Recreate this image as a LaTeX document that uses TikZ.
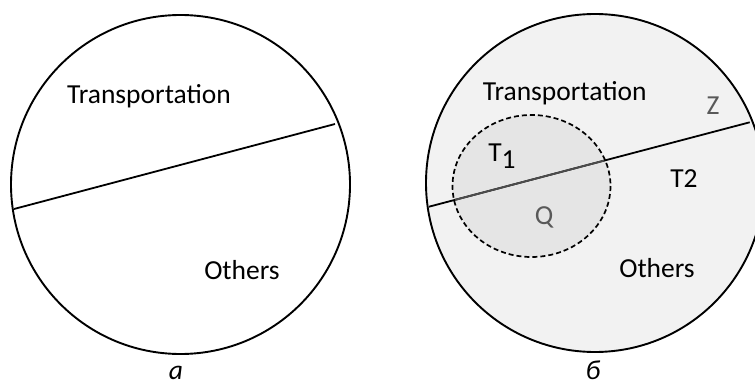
\documentclass[tikz,border=0pt]{standalone}
\usepackage{fontspec}
\setmainfont{Carlito}
\usepackage{tikz}
\usetikzlibrary{calc}

\begin{document}
\begin{tikzpicture}[x=1pt, y=-1pt,
  disk/.style={draw, line width=1.9pt},
  chord/.style={line width=1.8pt},
  zone/.style={draw, dashed, dash pattern=on 5pt off 3pt, line width=1.7pt, fill=black!10},
  lab/.style={font=\fontsize{27.5}{32}\selectfont, inner sep=0pt},
  dim/.style={lab, text=black!65},
  figcap/.style={font=\fontsize{27.5}{32}\selectfont\itshape, inner sep=0pt, anchor=base}]
\useasboundingbox (0,0) rectangle (755,385);
% left circle
\draw[disk] (180.5,184.5) circle [radius=169.5];
\coordinate (la) at (14,209);
\coordinate (lb) at (335,124);
\draw[chord] (la) -- (lb);
\node[lab] (tra) at (149,96) {Transportation};
\node[lab] (oth) at (242,270) {Others};
\node[figcap] (ca) at (176,379) {а};
% right circle
\draw[disk, fill=black!5] (595,183) circle [radius=169];
\draw[zone] (531.5,186) ellipse [x radius=79, y radius=71];
\coordinate (ra) at (429,206.7);
\coordinate (rb) at (749.7,122.3);
\draw[chord] (ra) -- (rb);
\begin{scope}
  \clip (531.5,186) ellipse [x radius=78, y radius=70];
  \draw[chord, black!70] (ra) -- (rb);
\end{scope}
\node[lab] (trb) at (564.7,93) {Transportation};
\node[dim] (z) at (713,106) {Z};
\node[lab] (t1) at (502,156) {T\raisebox{-7pt}{1}};
\node[lab] (t2) at (684,179) {T2};
\node[dim] (q) at (544,217) {Q};
\node[lab] (otb) at (657,268) {Others};
\node[figcap] (cb) at (593,379) {б};
\end{tikzpicture}
\end{document}
